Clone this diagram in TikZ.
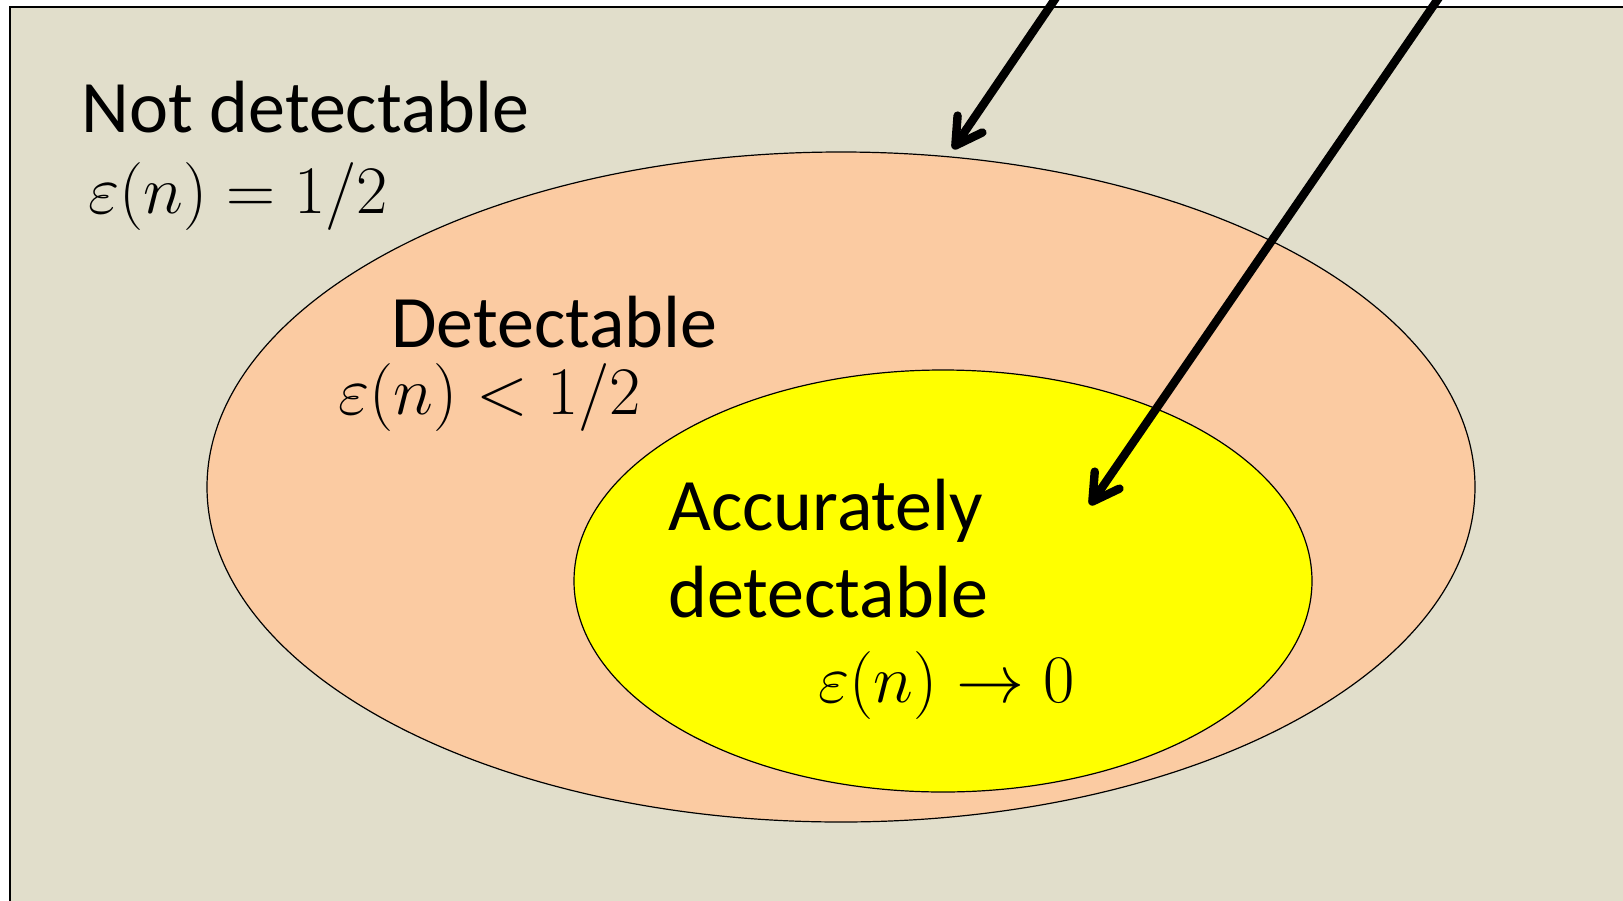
\documentclass[tikz,border=0pt]{standalone}
\usepackage{fix-cm}
\usepackage{fontspec}
\setmainfont{Carlito}
\usetikzlibrary{arrows.meta,shapes.geometric}
\definecolor{bgbeige}{HTML}{E1DECB}
\definecolor{peach}{HTML}{FBCBA2}
\definecolor{yel}{HTML}{FFFF00}
\tikzset{
  lbl/.style={anchor=base west, inner sep=0pt, font=\fontsize{37}{44}\selectfont},
  mlbl/.style={anchor=base west, inner sep=0pt, font=\fontsize{34}{40}\selectfont},
  bigarrow/.style={line width=4.2pt, line cap=round, -{Straight Barb[round,length=13pt,width=15pt]}},
}
\begin{document}
\begin{tikzpicture}[x=0.5pt,y=-0.5pt]
\useasboundingbox (0,0) rectangle (1623,900);
\fill[white] (0,0) rectangle (1623,900);
\draw[line width=0.9pt, fill=bgbeige] (10,7) rectangle (1640,920);
\node[ellipse, draw, line width=0.6pt, fill=peach, minimum width=634pt, minimum height=335pt, inner sep=0pt] (outer) at (841,487) {};
\node[ellipse, draw, line width=0.6pt, fill=yel, minimum width=369pt, minimum height=211pt, inner sep=0pt] (inner) at (943,581) {};
\node[lbl] (nd) at (81,132) {Not detectable};
\node[mlbl] (ndm) at (88,213) {$\varepsilon(n) = 1/2$};
\node[lbl] (d) at (391,347) {Detectable};
\node[mlbl] (dm) at (338,414) {$\varepsilon(n) < 1/2$};
\node[lbl] (ad1) at (668,530) {Accurately};
\node[lbl] (ad2) at (668,617) {detectable};
\node[mlbl] (adm) at (818,702) {$\varepsilon(n) \to 0$};
\coordinate (s1) at (1068,-20);
\coordinate (t1) at (953,149);
\coordinate (s2) at (1451,-20);
\coordinate (t2) at (1090,505);
\draw[bigarrow] (s1) -- (t1);
\draw[bigarrow] (s2) -- (t2);
\end{tikzpicture}
\end{document}
